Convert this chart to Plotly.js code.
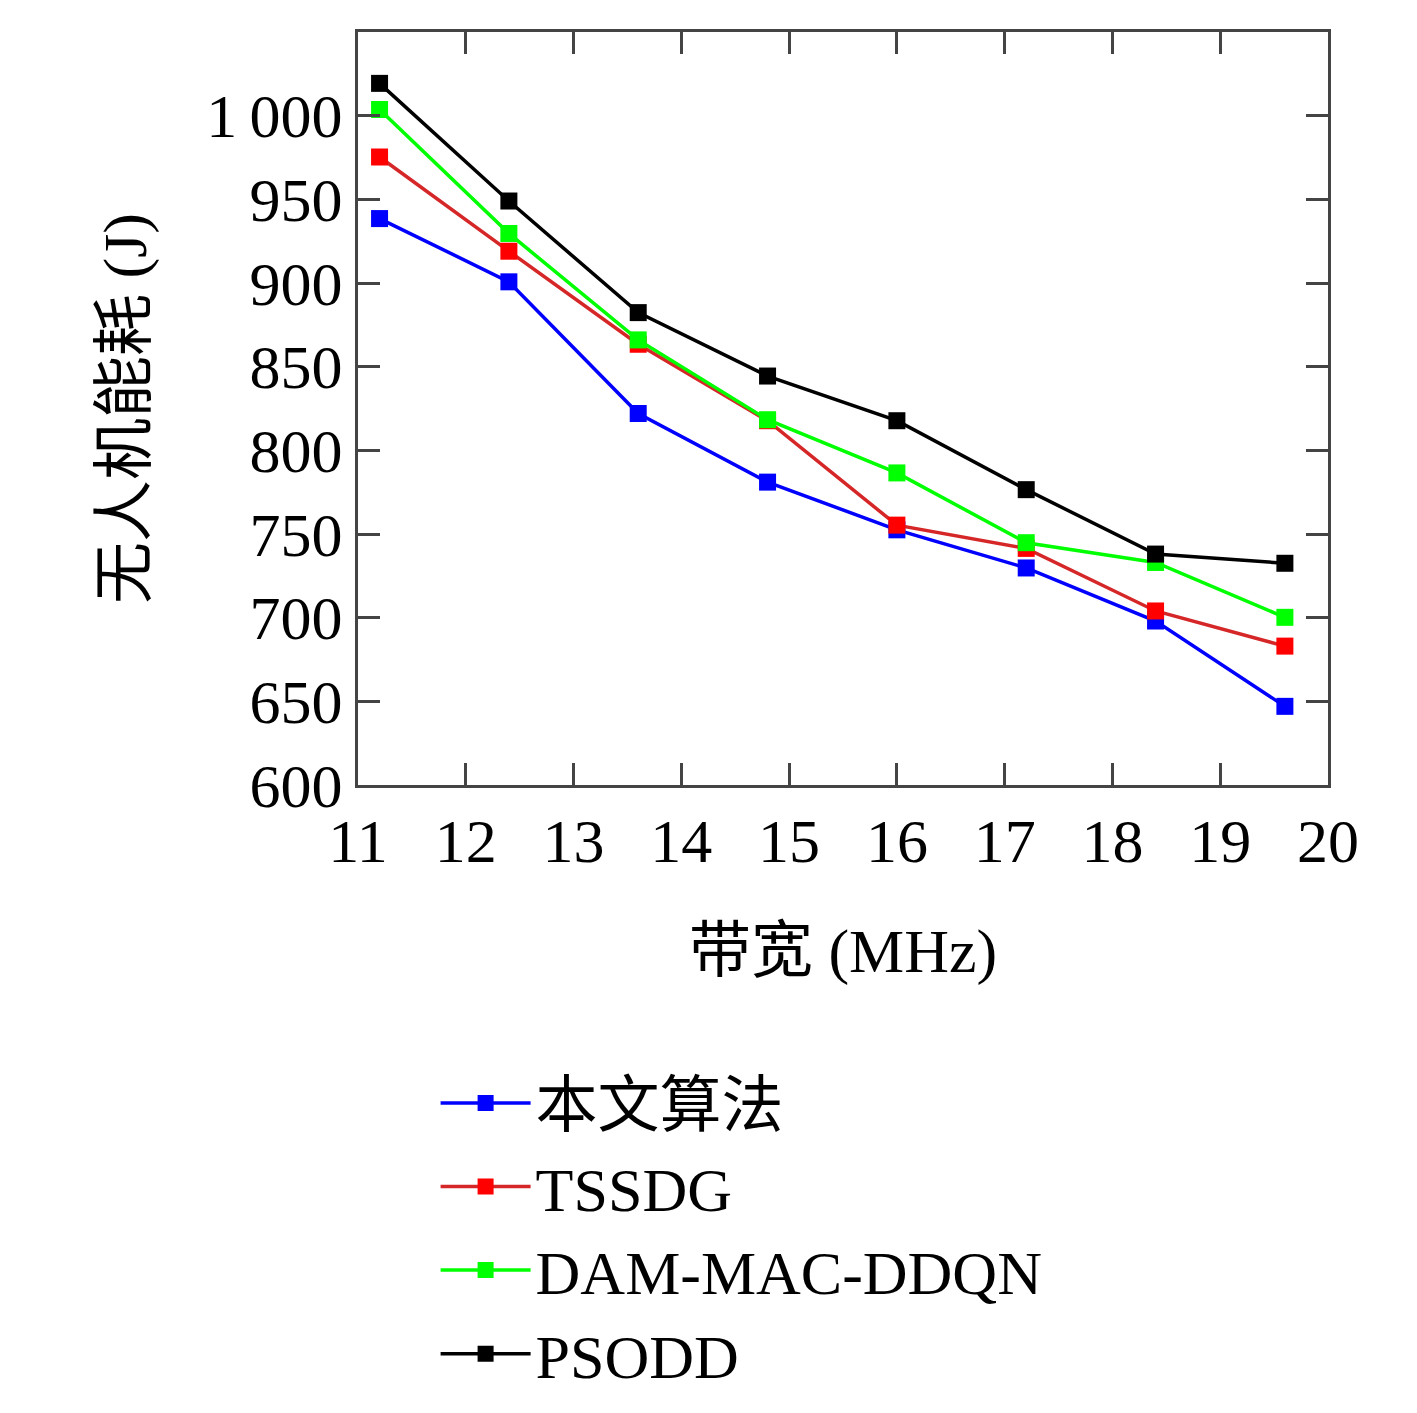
<!DOCTYPE html>
<html><head><meta charset="utf-8">
<script src="https://cdn.plot.ly/plotly-3.0.1.min.js"></script>
<style>body{margin:0}</style></head>
<body><div id="myDiv" style="width:1417px;height:1413px"></div>
<script>
var bandwidth = [11.2, 12.4, 13.6, 14.8, 16.0, 17.2, 18.4, 19.6];
var ours = [938.5, 900.7, 822, 781, 752.5, 729.7, 698, 647];
var tssdg = [975.3, 919, 863.4, 817.7, 755.3, 741.4, 704, 683];
var damMac = [1003.7, 929.6, 866, 818.3, 786.5, 744.8, 733, 700.2];
var psodd = [1019.3, 949, 882.3, 844.4, 817.7, 776.5, 738, 732.5];
var names = ['本文算法', 'TSSDG', 'DAM-MAC-DDQN', 'PSODD'];
var colors = ['#0000ff', '#ff0000', '#00ff00', '#000000'];
var lineColors = ['#0000ff', '#d62728', '#00ff00', '#000000'];
var yTicks = [600, 650, 700, 750, 800, 850, 900, 950, 1000, 1050];
var yLabels = ['600', '650', '700', '750', '800', '850', '900', '950', '1\u2009000', '1\u2009050'];

var font = "'Liberation Serif', 'Noto Sans CJK SC', serif";
var data = [ours, tssdg, damMac, psodd].map(function (ys, i) {
  return {
    x: bandwidth, y: ys, name: names[i], type: 'scatter', mode: 'lines+markers',
    line: {color: lineColors[i], width: 3.5},
    marker: {symbol: 'square', size: 17, color: colors[i]}
  };
});
var layout = {
  width: 1417, height: 1413,
  margin: {l: 358, r: 89, t: 32, b: 573},
  font: {family: font, size: 60, color: '#000'},
  showlegend: true,
  legend: {x: 0.08, y: -0.36, xanchor: 'left', yanchor: 'top', font: {size: 62},
    bgcolor: 'rgba(0,0,0,0)', tracegroupgap: 0, itemwidth: 90},
  xaxis: {range: [11, 20], dtick: 1, ticks: 'inside', ticklen: 22, tickwidth: 2.5,
    mirror: 'ticks', showline: true, linewidth: 3, linecolor: '#444', showgrid: false,
    zeroline: false, tickfont: {size: 62},
    title: {text: '带宽 (MHz)', font: {size: 62}, standoff: 55}},
  yaxis: {range: [600, 1050], tickvals: yTicks, ticktext: yLabels, ticks: 'inside',
    ticklen: 22, tickwidth: 2.5, mirror: 'ticks', showline: true, linewidth: 3,
    linecolor: '#444', showgrid: false, zeroline: false, tickfont: {size: 62},
    title: {text: '无人机能耗 (J)', font: {size: 62}, standoff: 40}},
  plot_bgcolor: '#fff', paper_bgcolor: '#fff'
};
Plotly.newPlot('myDiv', data, layout, {displayModeBar: false});
</script></body></html>
